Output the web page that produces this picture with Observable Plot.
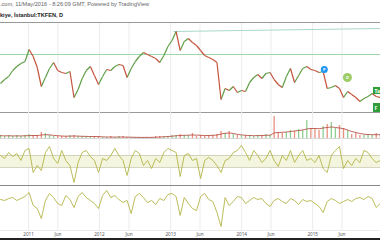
<!DOCTYPE html>
<html><head><meta charset="utf-8">
<script src="https://cdn.jsdelivr.net/npm/d3@7"></script>
<script src="https://cdn.jsdelivr.net/npm/@observablehq/plot@0.6"></script>
<style>
body{margin:0;background:#fff;}
#wrap{position:relative;width:380px;height:240px;overflow:hidden;font-family:"Liberation Sans",Arial,sans-serif;background:#fff;}
#wrap svg{position:absolute;left:0;}
#t1{position:absolute;left:0;top:1px;font-size:5.6px;color:#666;white-space:nowrap;}
#t2{position:absolute;left:0;top:11.5px;font-size:5.6px;font-weight:bold;color:#222;white-space:nowrap;}
#bar{position:absolute;left:0;top:238px;width:380px;height:2px;background:#222;}
</style></head><body>
<div id="wrap">
<div id="t1">.com, 11/May/2016 - 8:26:09 GMT, Powered by TradingView</div>
<div id="t2">kiye, İstanbul:TKFEN, D</div>
<div id="bar"></div>
</div>
<script>
// ---- data (3-week sampling from 10 Aug 2010) ----
const startDate = "2010-08-10";
const endDate = "2015-12-16";
const stepDays = 21;
const price = [6.9,7.3,7.6,8.2,8.6,8.9,9.1,10.3,9.6,8.5, 6.6,7.5,8.4,9.0,8.2,8.0,7.9,8.1,5.5,6.3,
 7.4,8.2,8.6,7.7,6.8,7.6,8.3,8.2,8.6,8.8, 8.7,7.5,8.4,9.1,9.6,10.0,9.8,9.6,9.4,9.0,
 9.7,10.6,11.2,12.1,10.2,11.1,11.4,11.0,10.7,10.2, 9.7,9.5,9.3,9.0,5.3,6.4,6.2,6.6,6.0,6.2,
 6.1,7.0,7.5,7.8,7.4,7.9,8.0,7.3,6.8,6.5, 7.6,8.4,7.0,7.7,8.4,8.6,8.3,8.2,8.0,8.1,
 6.4,6.5,6.7,6.4,5.5,6.1,5.8,5.5,5.1,5.4, 5.6,5.9,5.6,5.5];
const volume = [0.3,0.2,0.3,0.2,0.3,0.2,0.3,0.4,0.3,0.3, 0.6,0.5,0.3,0.2,0.2,0.2,0.2,0.3,0.3,0.2,
 0.2,0.2,0.2,0.2,0.2,0.1,0.1,0.2,0.1,0.2, 0.2,0.1,0.1,0.1,0.1,0.1,0.1,0.1,0.2,0.2,
 0.2,0.2,0.3,0.3,0.4,0.3,0.3,0.5,0.2,0.3, 0.2,0.3,0.3,0.4,0.7,0.5,0.7,0.4,0.3,0.3,
 0.3,0.3,0.2,0.3,0.3,0.4,0.3,2.2,0.6,0.5, 0.6,0.8,0.7,0.9,0.8,1.8,1.0,0.9,0.8,1.2,
 1.4,1.6,1.0,1.3,1.0,0.8,0.4,0.5,0.3,0.3, 0.4,0.3,0.5,0.4];
const volumeMA = [0.28,0.27,0.27,0.26,0.26,0.26,0.27,0.29,0.30,0.30, 0.35,0.38,0.36,0.32,0.28,0.25,0.23,0.24,0.25,0.24,
 0.22,0.21,0.20,0.20,0.19,0.17,0.15,0.15,0.14,0.15, 0.15,0.14,0.13,0.12,0.11,0.11,0.11,0.11,0.13,0.15,
 0.17,0.20,0.23,0.27,0.30,0.32,0.33,0.35,0.34,0.32, 0.30,0.30,0.32,0.35,0.45,0.52,0.55,0.50,0.42,0.36,
 0.32,0.30,0.28,0.29,0.30,0.32,0.33,0.55,0.60,0.62, 0.65,0.70,0.75,0.80,0.85,0.95,1.00,1.00,0.98,1.05,
 1.10,1.15,1.10,1.05,0.98,0.85,0.70,0.60,0.50,0.43, 0.40,0.38,0.38,0.39];
const cci = [100,50,150,83,133,17,183,217,-183,-67, -150,150,250,50,-33,183,17,-67,-350,-17,
 150,183,83,17,-183,50,17,100,217,100, 17,-233,50,183,133,-67,17,-117,50,-17,
 150,217,183,150,-250,100,133,17,50,-283, 17,67,17,-67,-183,17,50,150,183,267,
 150,17,183,100,-17,50,183,17,-83,100, 17,183,-17,100,183,17,50,-17,100,-117,
 -183,100,183,250,-117,17,-67,50,-17,183, 150,50,-17,17];
const momentum = [0.5,0,1,1.5,0,1,2,4,-2.5,-4, -9,0,3.5,1.5,-1.5,-2.5,2.5,0.5,-3.5,2,
 4,1.5,0,-1.5,-4,2.5,5,1.5,2.5,0.5, -1,0,-6.5,2,3.5,1.5,-1,0,-2,1,
 0,3,3.5,2,-7.5,1.5,-1.5,-4,-5,2, 3.5,0.5,-0.5,-6,-13,1.5,-2.5,-0.5,2,1.5,
 -1.5,0,1.5,0.5,1,-1.5,-3,0,1,-0.5, -1.5,1,0,-2,0.5,-0.5,0,-1.5,-3,-6,
 -0.5,1,0,-1.5,-0.5,0.5,-0.5,1,1.5,0.5, 2,1,-3.5,-1.5];
const tickDates = ["2011-01-01","2011-06-01","2012-01-01","2012-06-01","2013-01-01","2013-06-01","2014-01-01","2014-06-01","2015-01-01","2015-06-01"];
const tickLabels = ["2011","Jun","2012","Jun","2013","Jun","2014","Jun","2015","Jun"];
const supportLevel = 9.8;
const trendDates = ["2013-01-18","2015-12-16"];
const trendValues = [12.1,12.4];
const markerDates = ["2015-03-02","2015-06-29"];
const markerValues = [8.3,7.5];
const markerLetters = ["P","D"];
const labelDates = [["2015-11-10","2015-12-16"],["2015-11-10","2015-12-16"]];
const labelRanges = [[5.8,6.5],[4.0,4.9]];
const labelTexts = ["Ta","F"];
const cciBand = [-100,100];

// ---- build ----
const P = d => new Date(d + "T00:00:00Z");
const x0 = P(startDate), x1 = P(endDate);
const dates = price.map((_, i) => d3.utcDay.offset(x0, stepDays * i));
const ticks = tickDates.map((d, i) => ({date: P(d), label: tickLabels[i]}));
const UP = "#5f9e45", DN = "#c4533d", OSC = "#b3b446";
const wrap = document.getElementById("wrap");
const grid = Plot.ruleX(ticks, {x: "date", stroke: "#ececec", strokeWidth: 1});

function panel(top, height, ydomain, marks) {
  const svg = Plot.plot({
    width: 380, height, margin: 0,
    x: {type: "utc", domain: [x0, x1], axis: null},
    y: {domain: ydomain, axis: null},
    style: {background: "transparent", overflow: "visible"},
    marks: [grid, ...marks]
  });
  svg.style.top = top + "px";
  wrap.appendChild(svg);
}

const segs = price.slice(1).map((p, i) => ({xa: dates[i], ya: price[i], xb: dates[i + 1], yb: p, up: p >= price[i]}));
const rows = price.map((p, i) => ({date: dates[i], price: p, vol: volume[i], ma: volumeMA[i], cci: cci[i], mom: momentum[i], up: i === 0 ? true : p >= price[i - 1]}));
const markers = markerDates.map((d, i) => ({date: P(d), v: markerValues[i], t: markerLetters[i]}));
const labels = labelTexts.map((t, i) => ({xa: P(labelDates[i][0]), xb: P(labelDates[i][1]), ya: labelRanges[i][0], yb: labelRanges[i][1], t}));

// price panel 22-112
panel(22, 90, [4, 13], [
  Plot.ruleY([0], {y: () => supportLevel, stroke: "#9fd8a8", strokeWidth: 1}),
  Plot.line(trendDates.map((d, i) => ({date: P(d), v: trendValues[i]})), {x: "date", y: "v", stroke: "#a9d9cc", strokeWidth: 1}),
  Plot.link(segs.filter(s => s.up), {x1: "xa", y1: "ya", x2: "xb", y2: "yb", stroke: UP, strokeWidth: 1.2}),
  Plot.link(segs.filter(s => !s.up), {x1: "xa", y1: "ya", x2: "xb", y2: "yb", stroke: DN, strokeWidth: 1.2}),
  Plot.dot(markers.slice(0, 1), {x: "date", y: "v", r: 3.5, fill: "#2196f3"}),
  Plot.dot(markers.slice(1), {x: "date", y: "v", r: 4.5, fill: "#9ccc65"}),
  Plot.text(markers, {x: "date", y: "v", text: "t", fill: "#fff", fontSize: 4, fontWeight: "bold"}),
  Plot.rect(labels, {x1: "xa", x2: "xb", y1: "ya", y2: "yb", fill: "#2e9e3a"}),
  Plot.text(labels, {x: "xa", y: d => (d.ya + d.yb) / 2, text: "t", textAnchor: "start", dx: 1, fill: "#fff", fontSize: 5, fontWeight: "bold"}),
  Plot.ruleY([13], {stroke: "#999", strokeWidth: 1.2}),
  Plot.ruleY([4], {stroke: "#999", strokeWidth: 1})
]);

// volume panel 112-138
panel(112, 26, [0, 2.6], [
  Plot.ruleX(rows.filter(r => r.up), {x: "date", y1: 0, y2: "vol", stroke: "#8fcf8f", strokeWidth: 1.3}),
  Plot.ruleX(rows.filter(r => !r.up), {x: "date", y1: 0, y2: "vol", stroke: "#e8917f", strokeWidth: 1.3}),
  Plot.line(rows, {x: "date", y: "ma", stroke: "#b04035", strokeWidth: 0.8, curve: "monotone-x"}),
  Plot.ruleY([0], {stroke: "#bbb", strokeWidth: 0.6})
]);

// CCI panel 138-185
panel(138, 47, [-400, 383], [
  Plot.areaY([{date: x0}, {date: x1}], {x: "date", y1: cciBand[0], y2: cciBand[1], fill: "#f3f5df"}),
  Plot.ruleY(cciBand, {stroke: "#c9c9b0", strokeWidth: 0.8}),
  Plot.line(rows, {x: "date", y: "cci", stroke: OSC, strokeWidth: 0.9})
]);

// momentum panel 185-230
panel(185, 45, [-15, 7.5], [
  Plot.ruleY([7.5], {stroke: "#888", strokeWidth: 1.2}),
  Plot.line(rows, {x: "date", y: "mom", stroke: OSC, strokeWidth: 0.9})
]);

// axis 230-238
const ax = Plot.plot({
  width: 380, height: 8, margin: 0,
  x: {type: "utc", domain: [x0, x1], axis: null},
  y: {domain: [0, 1], axis: null},
  style: {background: "transparent", overflow: "visible"},
  marks: [
    Plot.ruleY([1], {stroke: "#ddd", strokeWidth: 0.6}),
    Plot.text(ticks, {x: "date", y: 0.45, text: "label", fontSize: 4.6, fill: "#555"})
  ]
});
ax.style.top = "230px";
wrap.appendChild(ax);
</script>
</body></html>
